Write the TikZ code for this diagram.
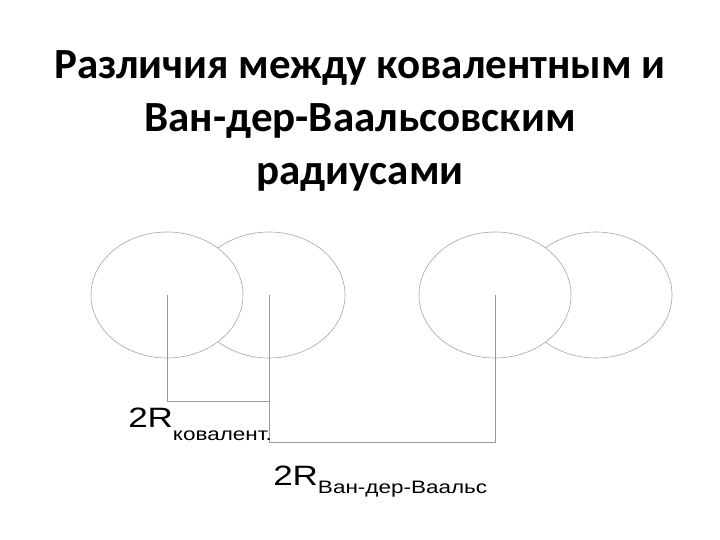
\documentclass[tikz,border=0pt]{standalone}
\usepackage{fontspec}
\setmainfont{Carlito}
\newfontfamily\arialfont{Liberation Sans}
\begin{document}
\begin{tikzpicture}[x=1pt,y=-1pt,
	atom/.style={draw=gray!70,line width=.6pt},
	bond/.style={draw=gray!80,line width=.8pt},
	title/.style={font=\bfseries\fontsize{43}{53}\selectfont,inner sep=0pt,anchor=base},
	lbl/.style={font=\arialfont,inner sep=0pt,anchor=base west,xscale=1.25}]
	\useasboundingbox (0,0) rectangle (720,540);
	% title
	\node[title] (t1) at (360,79) {Различия между ковалентным и};
	\node[title] (t2) at (360,132) {Ван-дер-Ваальсовским};
	\node[title] (t3) at (360,185) {радиусами};
	% atom centres
	\coordinate (a1) at (167,295);
	\coordinate (a2) at (269,295);
	\coordinate (a3) at (495,295);
	\coordinate (a4) at (596,295);
	\draw[atom] (a2) ellipse (76 and 63);
	\draw[atom,fill=white] (a1) ellipse (76 and 63);
	\draw[atom] (a4) ellipse (76 and 63);
	\draw[atom,fill=white] (a3) ellipse (76 and 63);
	% distances
	\coordinate (kov) at (269,401);
	\coordinate (vdw) at (495,442);
	\draw[bond] (a1) -- (a1 |- kov) -- (kov);
	\draw[bond] (a2) -- (a2 |- vdw) -- (vdw) -- (a3);
	\node[lbl] (rk) at (128,427) {\fontsize{28}{28}\selectfont 2R\fontsize{18}{18}\selectfont\raisebox{-13pt}{ковалент.}};
	\node[lbl] (rv) at (273,485) {\fontsize{28}{28}\selectfont 2R\fontsize{18}{18}\selectfont\raisebox{-8pt}{Ван-дер-Ваальс}};
\end{tikzpicture}
\end{document}
